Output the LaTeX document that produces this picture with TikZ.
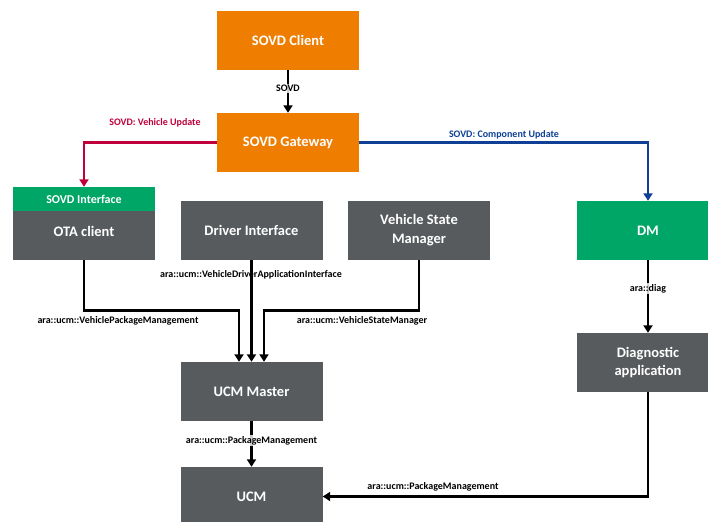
\documentclass[tikz,border=0pt]{standalone}
\usepackage{fontspec}
\setmainfont{Carlito}
\usetikzlibrary{arrows.meta}
\definecolor{sovdorange}{RGB}{238,125,0}
\definecolor{sovdgreen}{RGB}{0,166,101}
\definecolor{boxgray}{RGB}{87,91,93}
\definecolor{linkred}{RGB}{192,0,60}
\definecolor{linkblue}{RGB}{16,64,150}
\tikzset{
  box/.style={rectangle, draw=none, minimum width=142pt, minimum height=59pt, inner sep=0pt,
    text=white, font=\fontsize{14.5}{19}\selectfont\bfseries, align=center},
  orangebox/.style={box, fill=sovdorange},
  graybox/.style={box, fill=boxgray},
  greenbox/.style={box, fill=sovdgreen},
  arr/.style={line width=2.9pt, -{Triangle[length=7.5pt,width=9pt]}},
  lab/.style={font=\fontsize{10}{12}\selectfont\bfseries, inner sep=1pt},
  labw/.style={lab, fill=white, fill opacity=0.8, text opacity=1},
}
\begin{document}
\begin{tikzpicture}[x=1pt,y=-1pt]
\clip (0,0) rectangle (708,521);
\fill[white] (0,0) rectangle (708,521);
% nodes
\node[orangebox] (client) at (288,40.5) {SOVD Client};
\node[orangebox] (gateway) at (288,142.5) {SOVD Gateway};
\node[greenbox, minimum height=24pt, font=\fontsize{12}{14}\selectfont\bfseries] (sovdif) at (84,199) {SOVD Interface};
\node[graybox, minimum height=49pt, text depth=8pt] (ota) at (84,235.5) {OTA client};
\node[graybox] (driver) at (251.5,230.5) {Driver Interface};
\node[graybox] (vsm) at (419,230.5) {Vehicle State\\Manager};
\node[greenbox] (dm) at (648,230.5) {DM};
\node[graybox, font=\fontsize{14.5}{17.5}\selectfont\bfseries] (diag) at (648,362.5) {Diagnostic\\application};
\node[graybox] (master) at (251.5,391.5) {UCM Master};
\node[graybox] (ucm) at (251.5,496.5) {UCM};
% connectors
\draw[arr] (client) -- node[labw, pos=0.43] {SOVD} (gateway);
\draw[arr, linkred] (gateway.west) -| (sovdif.north);
\node[lab, text=linkred] (lvu) at (155,123) {SOVD: Vehicle Update};
\draw[arr, linkblue] (gateway.east) -| (dm.north);
\node[lab, text=linkblue] (lcu) at (504,135) {SOVD: Component Update};
\draw[arr] (ota.south) -- ++(0,50) -| ([xshift=-12.5pt]master.north);
\draw[arr] (driver.south) -- (master.north);
\node[lab] (ldrv) at (251,275) {ara::ucm::VehicleDriverApplicationInterface};
\draw[arr] (vsm.south) -- ++(0,50) -| ([xshift=12.5pt]master.north);
\node[lab] (lvpm) at (118,321) {ara::ucm::VehiclePackageManagement};
\node[lab] (lvsm) at (362,321) {ara::ucm::VehicleStateManager};
\draw[arr] (dm.south) -- node[labw, pos=0.39] {ara::diag} (diag.north);
\draw[arr] (master.south) -- node[labw, pos=0.43] {ara::ucm::PackageManagement} (ucm.north);
\draw[arr] (diag.south) |- (ucm.east);
\node[lab] (lpm) at (433,487) {ara::ucm::PackageManagement};
\end{tikzpicture}
\end{document}
